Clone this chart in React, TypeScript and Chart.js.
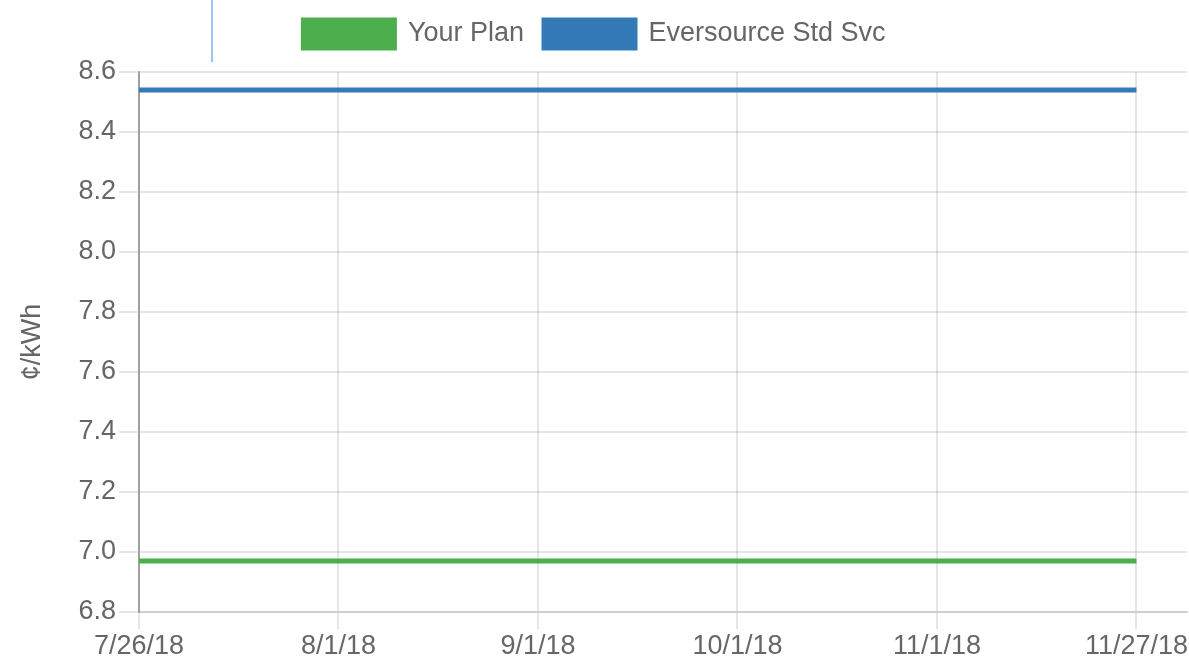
import React, { useEffect, useRef } from "react";
import { Chart, registerables } from "chart.js";

Chart.register(...registerables);

const xLabels = ["7/26/18", "8/1/18", "9/1/18", "10/1/18", "11/1/18", "11/27/18"];
const yourPlan = [6.97, 6.97, 6.97, 6.97, 6.97, 6.97];
const eversource = [8.54, 8.54, 8.54, 8.54, 8.54, 8.54];
const yTicks = [6.8, 7.0, 7.2, 7.4, 7.6, 7.8, 8.0, 8.2, 8.4, 8.6];

const FONT = "'Liberation Sans', Arial, Helvetica, sans-serif";
const GREEN = "#4cae4c";
const BLUE = "#337ab7";
const FS = 27;

const legendSpacer = {
  id: "legendSpacer",
  beforeInit(chart: any) {
    const legend = chart.legend;
    if (!legend) return;
    const origFit = legend.fit;
    legend.fit = function () {
      origFit.call(this);
      this.height += 14;
    };
  },
};

export default function App() {
  const ref = useRef<HTMLCanvasElement | null>(null);

  useEffect(() => {
    if (!ref.current) return;
    const chart = new Chart(ref.current, {
      type: "line",
      data: {
        datasets: [
          {
            label: "Your Plan",
            data: yourPlan.map((v, i) => ({ x: i, y: v })),
            borderColor: GREEN,
            backgroundColor: GREEN,
            borderWidth: 5,
            pointRadius: 0,
            fill: false,
          },
          {
            label: "Eversource Std Svc",
            data: eversource.map((v, i) => ({ x: i, y: v })),
            borderColor: BLUE,
            backgroundColor: BLUE,
            borderWidth: 5,
            pointRadius: 0,
            fill: false,
          },
        ],
      },
      plugins: [legendSpacer],
      options: {
        responsive: false,
        animation: false,
        maintainAspectRatio: false,
        layout: { padding: { top: 0, left: 0, right: 0, bottom: 0 } },
        plugins: {
          legend: {
            position: "top",
            labels: {
              boxWidth: 91,
              boxHeight: 28,
              padding: 20,
              color: "#666",
              font: { family: FONT, size: FS },
            },
          },
          tooltip: { enabled: false },
        },
        scales: {
          x: {
            type: "linear",
            min: 0,
            max: 5.255,
            afterBuildTicks: (scale: any) => {
              scale.ticks = xLabels.map((_, i) => ({ value: i }));
            },
            afterFit: (scale: any) => {
              scale.height = 50;
            },
            ticks: {
              autoSkip: false,
              maxRotation: 0,
              padding: 1,
              color: "#666",
              font: { family: FONT, size: FS },
              callback: (v: any) => xLabels[v as number] ?? "",
            },
            grid: { color: "rgba(0,0,0,0.1)", tickLength: 17, lineWidth: 2 },
            border: { color: "rgba(0,0,0,0.1)", width: 2 },
          },
          y: {
            min: 6.8,
            max: 8.6,
            afterBuildTicks: (scale: any) => {
              scale.ticks = yTicks.map((v) => ({ value: v }));
            },
            afterFit: (scale: any) => {
              scale.width = 139;
            },
            title: {
              display: true,
              text: "¢/kWh",
              color: "#666",
              padding: { top: 16, bottom: 4 },
              font: { family: FONT, size: FS },
            },
            ticks: {
              padding: 3,
              color: "#666",
              font: { family: FONT, size: FS },
              callback: (v: any) => Number(v).toFixed(1),
            },
            grid: { color: "rgba(0,0,0,0.1)", tickLength: 20, lineWidth: 2 },
            border: { color: "rgba(0,0,0,0.3)", width: 2 },
          },
        },
      },
    });
    return () => chart.destroy();
  }, []);

  return (
    <div
      style={{
        position: "fixed",
        left: 0,
        top: 0,
        width: 1189,
        height: 662,
        overflow: "hidden",
        background: "#fff",
      }}
    >
      <div
        style={{
          position: "absolute",
          left: 211,
          top: 0,
          width: 2,
          height: 62,
          background: "#9ec2f6",
        }}
      />
      <canvas
        ref={ref}
        width={1189}
        height={662}
        style={{ position: "absolute", left: 0, top: 0, width: 1189, height: 662 }}
      />
    </div>
  );
}
